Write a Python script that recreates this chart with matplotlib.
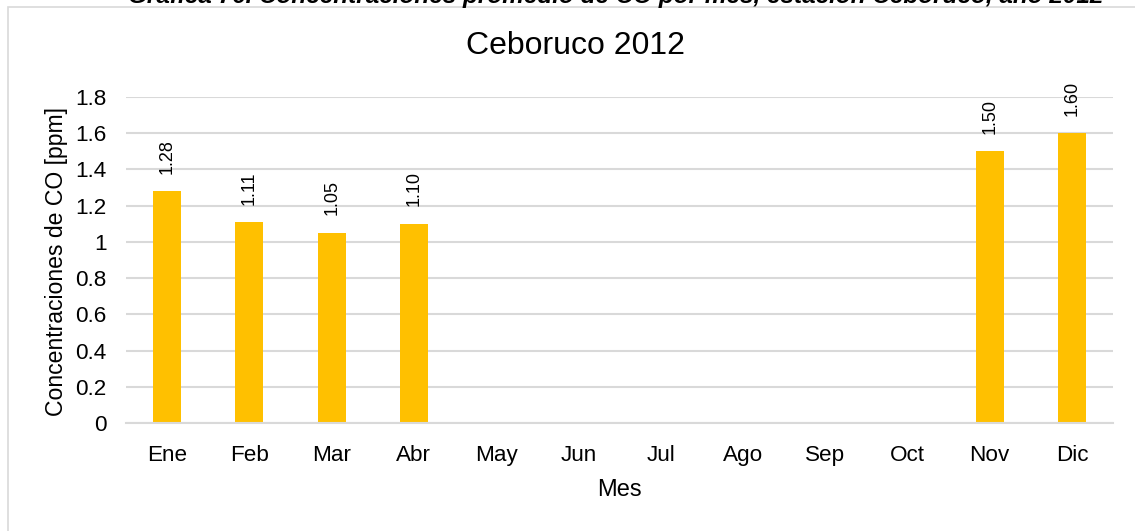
import numpy as np
import matplotlib
matplotlib.use("Agg")
import matplotlib.pyplot as plt
from matplotlib.patches import Rectangle

# === Data ===
meses = ["Ene", "Feb", "Mar", "Abr", "May", "Jun", "Jul", "Ago", "Sep", "Oct", "Nov", "Dic"]
co_ppm = [1.28, 1.11, 1.05, 1.10, np.nan, np.nan, np.nan, np.nan, np.nan, np.nan, 1.50, 1.60]
y_ticks = [0, 0.2, 0.4, 0.6, 0.8, 1, 1.2, 1.4, 1.6, 1.8]
y_tick_labels = ["0", "0.2", "0.4", "0.6", "0.8", "1", "1.2", "1.4", "1.6", "1.8"]

plt.rcParams['font.family'] = ['Liberation Sans', 'DejaVu Sans']

W, H = 1135, 531
fig = plt.figure(figsize=(W / 100, H / 100), dpi=100)

# === Chart frame ===
fig.patches.append(Rectangle((8 / W, -0.1), 1.2, 1.1 - 7 / H, transform=fig.transFigure,
                             facecolor="none", edgecolor="#d9d9d9", linewidth=1.2, zorder=-1))

# === Caption (clipped at top, as in the source) ===
fig.text(128 / W, 1 - 3.5 / H,
         "Gráfica 76. Concentraciones promedio de CO por mes, estación Ceboruco, año 2012",
         ha="left", va="baseline", fontsize=17.5, fontweight="bold", fontstyle="italic")

# === Plot area ===
ax = fig.add_axes([126 / W, 1 - 423 / H, (1113 - 126) / W, (423 - 97) / H])
ax.set_facecolor("none")
x = np.arange(len(meses))
ax.bar(x, co_ppm, width=0.34, color="#FFC000", zorder=2)

for xi, v in zip(x, co_ppm):
    if not np.isnan(v):
        ax.annotate(f"{v:.2f}", (xi, v), xytext=(0, 12.5), textcoords="offset points",
                    rotation=90, ha="center", va="bottom", fontsize=13)

ax.set_xlim(-0.5, len(meses) - 0.5)
ax.set_ylim(0, 1.8)
ax.set_yticks(y_ticks)
ax.set_yticklabels(y_tick_labels)
ax.set_xticks(x)
ax.set_xticklabels(meses)
ax.yaxis.grid(True, color="#d9d9d9", linewidth=1.5, zorder=0)
ax.set_axisbelow(True)
for s in ["top", "right", "left"]:
    ax.spines[s].set_visible(False)
ax.spines["bottom"].set_color("#d9d9d9")
ax.spines["bottom"].set_linewidth(1.5)
ax.tick_params(axis="both", length=0, labelsize=16.2)
ax.tick_params(axis="x", pad=16)
ax.tick_params(axis="y", pad=14)

# === Titles ===
fig.text(575 / W, 1 - 46 / H, "Ceboruco 2012", ha="center", va="center", fontsize=23)
fig.text(619.5 / W, 1 - 490 / H, "Mes", ha="center", va="center", fontsize=17)
fig.text(57 / W, 1 - 261 / H, "Concentraciones de CO [ppm]", ha="center", va="center",
         rotation=90, fontsize=16.6)

plt.savefig("out.png", dpi=100)
plt.close()
